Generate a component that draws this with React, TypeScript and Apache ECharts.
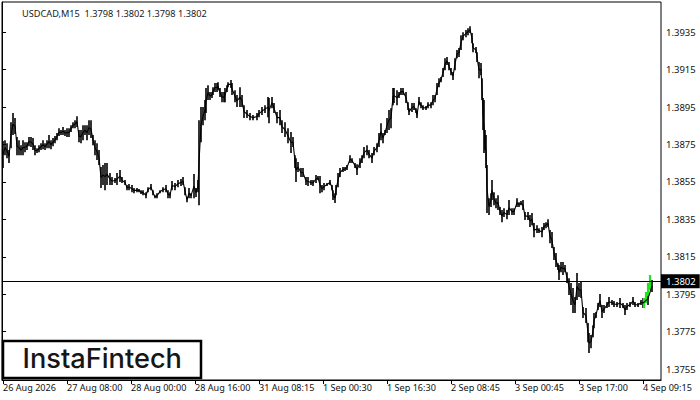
import React, { useEffect, useRef } from "react";
import * as echarts from "echarts";

const chartTitle = "USDCAD,M15  1.3798 1.3802 1.3798 1.3802";
const lastPrice = 1.3802;
const priceTicks = [1.3755, 1.3775, 1.3795, 1.3815, 1.3835, 1.3855, 1.3875, 1.3895, 1.3915, 1.3935];
const timeTicks = [1, 65, 129, 193, 257, 321, 385, 449, 513, 577, 641];
const timeLabels = ["26 Aug 2026", "27 Aug 08:00", "28 Aug 00:00", "28 Aug 16:00", "31 Aug 08:15", "1 Sep 00:30", "1 Sep 16:30", "2 Sep 08:45", "3 Sep 00:45", "3 Sep 17:00", "4 Sep 09:15"];

// [bar number, high, low]
const priceBars: number[][] = [
[1,1.38768,1.38624],[3,1.38773,1.38693],[5,1.38757,1.38677],[7,1.38720,1.38651],[9,1.38869,1.38730],[11,1.38918,1.38800],[13,1.38891,1.38806],[15,1.38790,1.38693],[17,1.38773,1.38693],[19,1.38746,1.38693],
[21,1.38773,1.38693],[23,1.38762,1.38709],[25,1.38762,1.38720],[27,1.38790,1.38741],[29,1.38790,1.38736],[31,1.38784,1.38720],[33,1.38746,1.38693],[35,1.38730,1.38704],[37,1.38746,1.38709],[39,1.38757,1.38720],
[41,1.38773,1.38725],[43,1.38757,1.38720],[45,1.38773,1.38730],[47,1.38800,1.38730],[49,1.38773,1.38725],[51,1.38784,1.38741],[53,1.38795,1.38757],[55,1.38811,1.38773],[57,1.38837,1.38795],[59,1.38827,1.38800],
[61,1.38843,1.38800],[63,1.38827,1.38795],[65,1.38837,1.38790],[67,1.38837,1.38790],[69,1.38853,1.38816],[71,1.38869,1.38837],[73,1.38880,1.38837],[75,1.38901,1.38843],[77,1.38827,1.38762],[79,1.38827,1.38757],
[81,1.38853,1.38773],[83,1.38853,1.38800],[85,1.38853,1.38773],[87,1.38880,1.38800],[89,1.38880,1.38784],[91,1.38800,1.38746],[93,1.38773,1.38693],[95,1.38757,1.38667],[97,1.38720,1.38640],[99,1.38630,1.38517],
[101,1.38640,1.38533],[103,1.38651,1.38506],[105,1.38651,1.38533],[108,1.38597,1.38533],[110,1.38576,1.38533],[113,1.38571,1.38544],[115,1.38597,1.38533],[118,1.38613,1.38549],[120,1.38576,1.38544],[123,1.38560,1.38533],
[125,1.38533,1.38506],[127,1.38539,1.38506],[130,1.38533,1.38495],[132,1.38517,1.38490],[135,1.38517,1.38495],[137,1.38512,1.38495],[139,1.38506,1.38485],[141,1.38506,1.38479],[144,1.38495,1.38463],[146,1.38522,1.38495],
[149,1.38539,1.38506],[151,1.38506,1.38479],[153,1.38479,1.38463],[155,1.38490,1.38463],[158,1.38506,1.38490],[161,1.38522,1.38495],[164,1.38533,1.38495],[166,1.38506,1.38463],[168,1.38495,1.38463],[170,1.38555,1.38506],
[173,1.38544,1.38506],[176,1.38560,1.38522],[179,1.38565,1.38528],[181,1.38576,1.38533],[183,1.38522,1.38479],[185,1.38469,1.38442],[187,1.38517,1.38463],[189,1.38490,1.38463],[192,1.38592,1.38463],[194,1.38517,1.38469],
[196,1.38560,1.38495],[197,1.38880,1.38426],[199,1.38950,1.38762],[201,1.38950,1.38853],[203,1.38987,1.38880],[204,1.39051,1.38918],[206,1.39067,1.38987],[208,1.39030,1.38987],[210,1.39030,1.38998],[211,1.39056,1.39014],
[213,1.39078,1.39030],[215,1.39078,1.39030],[216,1.39083,1.39040],[218,1.39051,1.39003],[220,1.39030,1.38976],[222,1.39030,1.38976],[223,1.39051,1.38976],[225,1.39067,1.39030],[226,1.39083,1.39056],[229,1.39094,1.39051],
[230,1.39078,1.39014],[233,1.39040,1.38976],[235,1.39014,1.38950],[238,1.39056,1.38950],[240,1.39014,1.38950],[242,1.38960,1.38891],[245,1.38934,1.38891],[248,1.38918,1.38880],[251,1.38907,1.38880],[255,1.38918,1.38880],
[257,1.38934,1.38896],[260,1.38950,1.38907],[263,1.38960,1.38918],[266,1.39003,1.38896],[267,1.38998,1.38864],[270,1.39003,1.38944],[272,1.38971,1.38918],[275,1.38923,1.38864],[278,1.38934,1.38853],[280,1.38880,1.38811],
[283,1.38869,1.38790],[286,1.38837,1.38757],[289,1.38816,1.38704],[291,1.38790,1.38736],[293,1.38693,1.38624],[294,1.38677,1.38549],[296,1.38656,1.38603],[299,1.38624,1.38576],[301,1.38624,1.38576],[304,1.38576,1.38533],
[306,1.38576,1.38528],[309,1.38560,1.38533],[311,1.38560,1.38528],[314,1.38587,1.38544],[316,1.38581,1.38560],[318,1.38581,1.38490],[320,1.38533,1.38495],[322,1.38544,1.38506],[325,1.38544,1.38528],[328,1.38560,1.38533],
[330,1.38533,1.38506],[331,1.38506,1.38453],[333,1.38490,1.38437],[334,1.38533,1.38479],[336,1.38597,1.38522],[338,1.38624,1.38576],[341,1.38630,1.38603],[343,1.38630,1.38608],[345,1.38640,1.38613],[348,1.38693,1.38651],
[350,1.38677,1.38651],[353,1.38651,1.38624],[355,1.38645,1.38587],[358,1.38677,1.38624],[360,1.38693,1.38651],[362,1.38736,1.38677],[365,1.38746,1.38693],[367,1.38720,1.38677],[370,1.38704,1.38651],[372,1.38736,1.38693],
[375,1.38757,1.38709],[377,1.38811,1.38736],[379,1.38864,1.38773],[381,1.38811,1.38757],[383,1.38827,1.38800],[385,1.38891,1.38811],[387,1.38934,1.38827],[389,1.38944,1.38837],[391,1.39051,1.38960],[392,1.39051,1.38971],
[395,1.39040,1.38960],[397,1.39030,1.38998],[399,1.39051,1.39014],[401,1.39051,1.39014],[404,1.39030,1.38971],[406,1.38976,1.38934],[407,1.38944,1.38907],[410,1.38971,1.38923],[412,1.38971,1.38934],[414,1.38944,1.38918],
[415,1.38923,1.38891],[417,1.39003,1.38960],[419,1.38976,1.38944],[421,1.38960,1.38934],[424,1.38955,1.38934],[426,1.38976,1.38944],[429,1.38976,1.38944],[431,1.39014,1.38960],[433,1.39014,1.38976],[435,1.39078,1.39014],
[437,1.39104,1.39056],[439,1.39110,1.39083],[441,1.39158,1.39110],[443,1.39211,1.39147],[445,1.39217,1.39174],[447,1.39190,1.39147],[449,1.39158,1.39120],[451,1.39137,1.39094],[453,1.39211,1.39147],[455,1.39254,1.39211],
[457,1.39265,1.39217],[459,1.39334,1.39254],[461,1.39350,1.39307],[464,1.39361,1.39323],[466,1.39371,1.39334],[468,1.39382,1.39345],[470,1.39345,1.39291],[471,1.39291,1.39243],[474,1.39270,1.39238],[475,1.39243,1.39190],
[477,1.39190,1.39104],[479,1.39185,1.39120],[480,1.39104,1.38987],[481,1.38998,1.38827],[482,1.38987,1.38704],[483,1.38827,1.38720],[484,1.38800,1.38624],[485,1.38640,1.38384],[487,1.38463,1.38373],[489,1.38490,1.38416],
[490,1.38560,1.38453],[492,1.38495,1.38426],[494,1.38463,1.38410],[496,1.38479,1.38400],[498,1.38416,1.38373],[500,1.38400,1.38335],[502,1.38410,1.38362],[505,1.38400,1.38351],[507,1.38453,1.38373],[510,1.38410,1.38373],
[512,1.38410,1.38373],[515,1.38463,1.38416],[517,1.38442,1.38416],[519,1.38448,1.38426],[521,1.38453,1.38400],[523,1.38389,1.38346],[526,1.38389,1.38346],[528,1.38373,1.38309],[530,1.38384,1.38319],[532,1.38330,1.38255],
[535,1.38319,1.38277],[537,1.38303,1.38277],[540,1.38309,1.38255],[542,1.38330,1.38293],[544,1.38335,1.38303],[546,1.38351,1.38309],[548,1.38293,1.38223],[550,1.38282,1.38197],[552,1.38202,1.38133],[554,1.38170,1.38095],
[556,1.38116,1.38079],[557,1.38106,1.38026],[559,1.38122,1.38068],[561,1.38122,1.38053],[563,1.38106,1.38068],[565,1.38068,1.38010],[567,1.38036,1.37946],[569,1.38010,1.37892],[571,1.37983,1.37850],[573,1.37935,1.37850],
[575,1.38063,1.37919],[577,1.38010,1.37935],[579,1.38015,1.37930],[581,1.37882,1.37823],[584,1.37876,1.37796],[586,1.37796,1.37694],[587,1.37743,1.37636],[589,1.37732,1.37662],[591,1.37785,1.37721],[592,1.37850,1.37769],
[594,1.37855,1.37823],[596,1.37903,1.37866],[598,1.37951,1.37882],[600,1.37892,1.37823],[602,1.37892,1.37850],[605,1.37908,1.37876],[607,1.37935,1.37882],[610,1.37919,1.37892],[612,1.37914,1.37882],[615,1.37908,1.37882],
[618,1.37930,1.37876],[621,1.37903,1.37876],[623,1.37892,1.37839],[625,1.37903,1.37866],[628,1.37908,1.37882],[631,1.37935,1.37892],[633,1.37908,1.37882],[636,1.37903,1.37882],[639,1.37919,1.37892],[641,1.37930,1.37876],
[646,1.37962,1.37892],[650,1.38026,1.37962],
];
// the last bars, drawn in green
const patternBars: number[][] = [
[642,1.37930,1.37876],[644,1.37962,1.37903],[646,1.38010,1.37940],[648,1.38053,1.37972],
];

const drawBars = (color: string, width: number) => (_p: any, api: any) => {
  const top = api.coord([api.value(0), api.value(1)]);
  const bottom = api.coord([api.value(0), api.value(2)]);
  return {
    type: "line",
    shape: { x1: top[0], y1: top[1], x2: bottom[0], y2: bottom[1] },
    style: { stroke: color, lineWidth: width },
  };
};

const FONT = "Noto Sans";

export default function App() {
  const ref = useRef<HTMLDivElement>(null);
  useEffect(() => {
    const chart = echarts.init(ref.current!, undefined, { renderer: "svg" });
    chart.setOption({
      animation: false,
      backgroundColor: "#fff",
      title: {
        text: chartTitle,
        left: 17,
        top: 4,
        textStyle: { fontFamily: FONT, fontSize: 9.2, fontWeight: "normal", color: "#1a1a1a" },
      },
      grid: { left: 2, top: 2, width: 659, height: 378, show: true, borderColor: "#000", borderWidth: 1, backgroundColor: "#fff" },
      xAxis: {
        type: "value",
        min: 0,
        max: 659,
        splitLine: { show: false },
        axisLine: { show: true, lineStyle: { color: "#000" } },
        axisTick: { show: true, length: 4, customValues: timeTicks, lineStyle: { color: "#000" } },
        axisLabel: {
          customValues: timeTicks,
          formatter: (v: number) => timeLabels[timeTicks.indexOf(v)] ?? "",
          align: "left",
          margin: 3,
          hideOverlap: false,
          fontFamily: FONT,
          fontSize: 9.1,
          color: "#111",
        },
      },
      yAxis: {
        type: "value",
        position: "right",
        min: 1.37492,
        max: 1.39511,
        splitLine: { show: false },
        axisLine: { show: true, lineStyle: { color: "#000" } },
        axisTick: { show: true, length: 4, customValues: priceTicks, lineStyle: { color: "#000" } },
        axisLabel: {
          customValues: priceTicks,
          formatter: (v: number) => v.toFixed(4),
          margin: 5,
          fontFamily: FONT,
          fontSize: 9.5,
          color: "#111",
        },
      },
      series: [
        {
          type: "line",
          data: priceBars.map((b) => [b[0], (b[1] + b[2]) / 2]),
          showSymbol: false,
          silent: true,
          lineStyle: { color: "#000", width: 1.1 },
        },
        {
          type: "custom",
          data: priceBars,
          encode: { x: 0, y: [1, 2] },
          renderItem: drawBars("#000", 1.6),
          silent: true,
          markLine: {
            silent: true,
            symbol: "none",
            precision: 5,
            lineStyle: { color: "#000", width: 1, type: "solid" },
            data: [{ yAxis: lastPrice }],
            label: {
              show: true,
              position: "end",
              distance: 0,
              formatter: lastPrice.toFixed(4),
              backgroundColor: "#000",
              color: "#fff",
              padding: [2, 4, 2, 5],
              fontFamily: FONT,
              fontSize: 9.5,
            },
          },
        },
        {
          type: "custom",
          data: patternBars,
          encode: { x: 0, y: [1, 2] },
          renderItem: drawBars("#1fe51f", 2.2),
          silent: true,
        },
      ],
      graphic: [
        {
          type: "rect",
          shape: { x: 3, y: 341, width: 198, height: 37 },
          style: { fill: "#fff", stroke: "#000", lineWidth: 2.5 },
          z: 100,
        },
        {
          type: "text",
          x: 22.5,
          y: 345,
          style: { text: "InstaFintech", fontFamily: "Inter", fontWeight: 500, fontSize: 27.2, fill: "#161616" },
          z: 101,
        },
      ],
    });
    return () => chart.dispose();
  }, []);
  return <div ref={ref} style={{ position: "absolute", left: 0, top: 0, width: 700, height: 400 }} />;
}
